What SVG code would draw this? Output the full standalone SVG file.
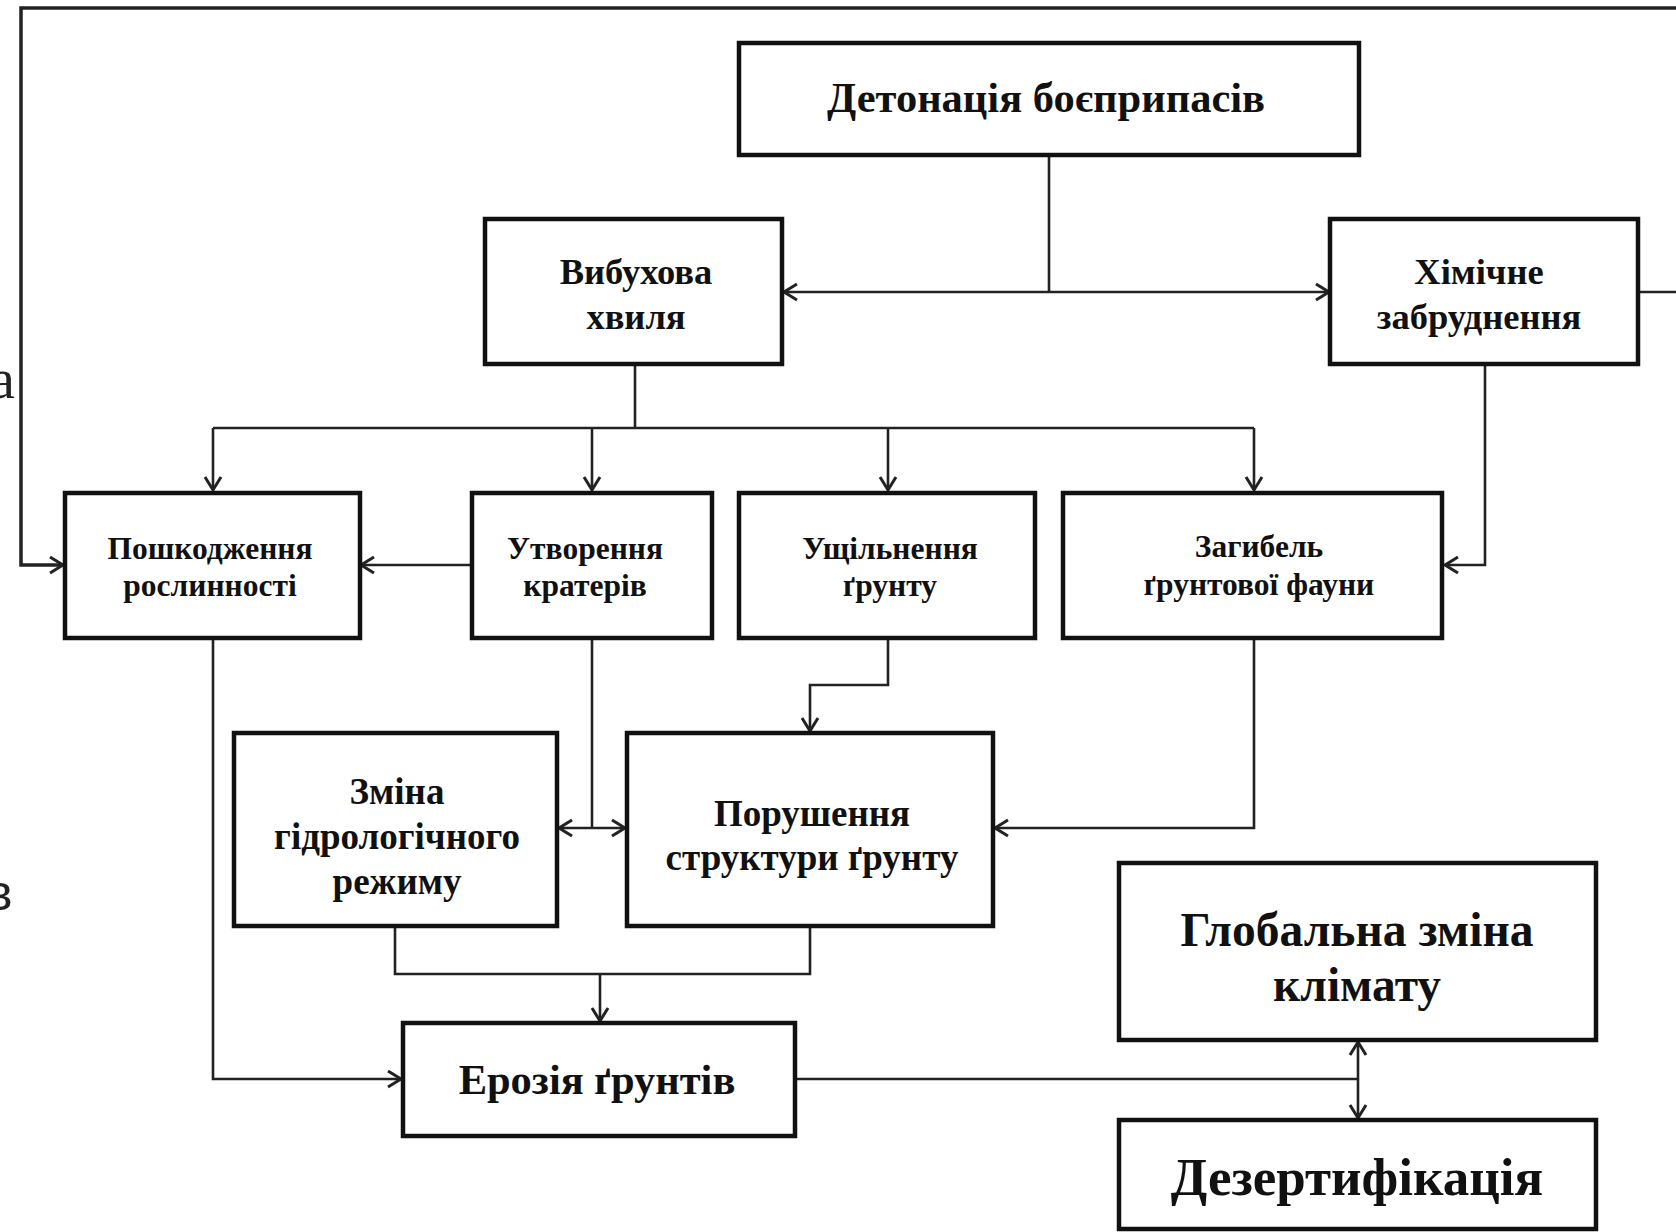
<svg xmlns="http://www.w3.org/2000/svg" width="1676" height="1232" viewBox="0 0 1676 1232">
<style>
.box{fill:#fff;stroke:#111;stroke-width:4.5}
.t{font-family:"Liberation Serif","Times New Roman",serif;font-weight:bold;fill:#111;text-anchor:middle}
.c{fill:none;stroke:#222;stroke-width:2.6}
</style>
<defs>
<marker id="a" viewBox="0 0 20 20" refX="17" refY="10" markerWidth="20" markerHeight="20" markerUnits="userSpaceOnUse" orient="auto-start-reverse">
<path d="M4,2 L17,10 L4,18" fill="none" stroke="#222" stroke-width="3"/>
</marker>
</defs>
<rect width="1676" height="1232" fill="#fff"/>
<text x="-10" y="398" font-family="Liberation Serif,serif" font-size="56" fill="#222">а</text>
<text x="-14" y="910" font-family="Liberation Sans,sans-serif" font-size="50" fill="#222">в</text>
<g id="connectors">
<path class="c" d="M1676,8 H21 V565 H63" marker-end="url(#a)" style="stroke-width:3.5"/>
<path class="c" d="M1049,155 V292"/>
<path class="c" d="M784,292 H1329" marker-start="url(#a)" marker-end="url(#a)"/>
<path class="c" d="M1639,292 H1676"/>
<path class="c" d="M635,364 V428"/>
<path class="c" d="M213,428 H1254"/>
<path class="c" d="M213,428 V490" marker-end="url(#a)"/>
<path class="c" d="M592,428 V490" marker-end="url(#a)"/>
<path class="c" d="M888,428 V490" marker-end="url(#a)"/>
<path class="c" d="M1254,428 V490" marker-end="url(#a)"/>
<path class="c" d="M1485,364 V565 H1445" marker-end="url(#a)"/>
<path class="c" d="M472,565 H361" marker-end="url(#a)"/>
<path class="c" d="M213,638 V1079 H401" marker-end="url(#a)"/>
<path class="c" d="M592,638 V828"/>
<path class="c" d="M559,828 H625" marker-start="url(#a)" marker-end="url(#a)"/>
<path class="c" d="M888,638 V685 H810 V731" marker-end="url(#a)"/>
<path class="c" d="M1254,638 V828 H995" marker-end="url(#a)"/>
<path class="c" d="M395,926 V974 H810 V926"/>
<path class="c" d="M600,974 V1021" marker-end="url(#a)"/>
<path class="c" d="M795,1079 H1358"/>
<path class="c" d="M1358,1042 V1118" marker-start="url(#a)" marker-end="url(#a)"/>
</g>
<g id="n-detonation"><rect class="box" x="739" y="43" width="620" height="112"/><text class="t" x="1046" y="112" font-size="42.5">Детонація боєприпасів</text></g>
<g id="n-wave"><rect class="box" x="485" y="219" width="297" height="145"/><text class="t" x="636" y="284" font-size="36.5">Вибухова</text><text class="t" x="636" y="329" font-size="36.5">хвиля</text></g>
<g id="n-chem"><rect class="box" x="1330" y="219" width="308" height="145"/><text class="t" x="1479" y="284" font-size="36.5">Хімічне</text><text class="t" x="1479" y="329" font-size="36.5">забруднення</text></g>
<g id="n-veg"><rect class="box" x="65" y="493" width="295" height="145"/><text class="t" x="210" y="559" font-size="31.5">Пошкодження</text><text class="t" x="210" y="596" font-size="31.5">рослинності</text></g>
<g id="n-crater"><rect class="box" x="472" y="493" width="240" height="145"/><text class="t" x="585" y="559" font-size="31.5">Утворення</text><text class="t" x="585" y="596" font-size="31.5">кратерів</text></g>
<g id="n-compact"><rect class="box" x="739" y="493" width="296" height="145"/><text class="t" x="890" y="559" font-size="31.5">Ущільнення</text><text class="t" x="890" y="596" font-size="31.5">ґрунту</text></g>
<g id="n-fauna"><rect class="box" x="1063" y="493" width="379" height="145"/><text class="t" x="1259" y="557" font-size="31.5">Загибель</text><text class="t" x="1259" y="595" font-size="31.5">ґрунтової фауни</text></g>
<g id="n-hydro"><rect class="box" x="234" y="733" width="323" height="193"/><text class="t" x="397" y="804" font-size="37">Зміна</text><text class="t" x="397" y="849" font-size="37">гідрологічного</text><text class="t" x="397" y="894" font-size="37">режиму</text></g>
<g id="n-struct"><rect class="box" x="627" y="733" width="366" height="193"/><text class="t" x="812" y="826" font-size="37">Порушення</text><text class="t" x="812" y="870" font-size="37">структури ґрунту</text></g>
<g id="n-erosion"><rect class="box" x="403" y="1023" width="392" height="113"/><text class="t" x="597" y="1094" font-size="42.5">Ерозія ґрунтів</text></g>
<g id="n-climate"><rect class="box" x="1119" y="863" width="477" height="177"/><text class="t" x="1357" y="946" font-size="47.5">Глобальна зміна</text><text class="t" x="1357" y="1001" font-size="47.5">клімату</text></g>
<g id="n-desert"><rect class="box" x="1119" y="1120" width="477" height="109"/><text class="t" x="1357" y="1195" font-size="53">Дезертифікація</text></g>
</svg>
